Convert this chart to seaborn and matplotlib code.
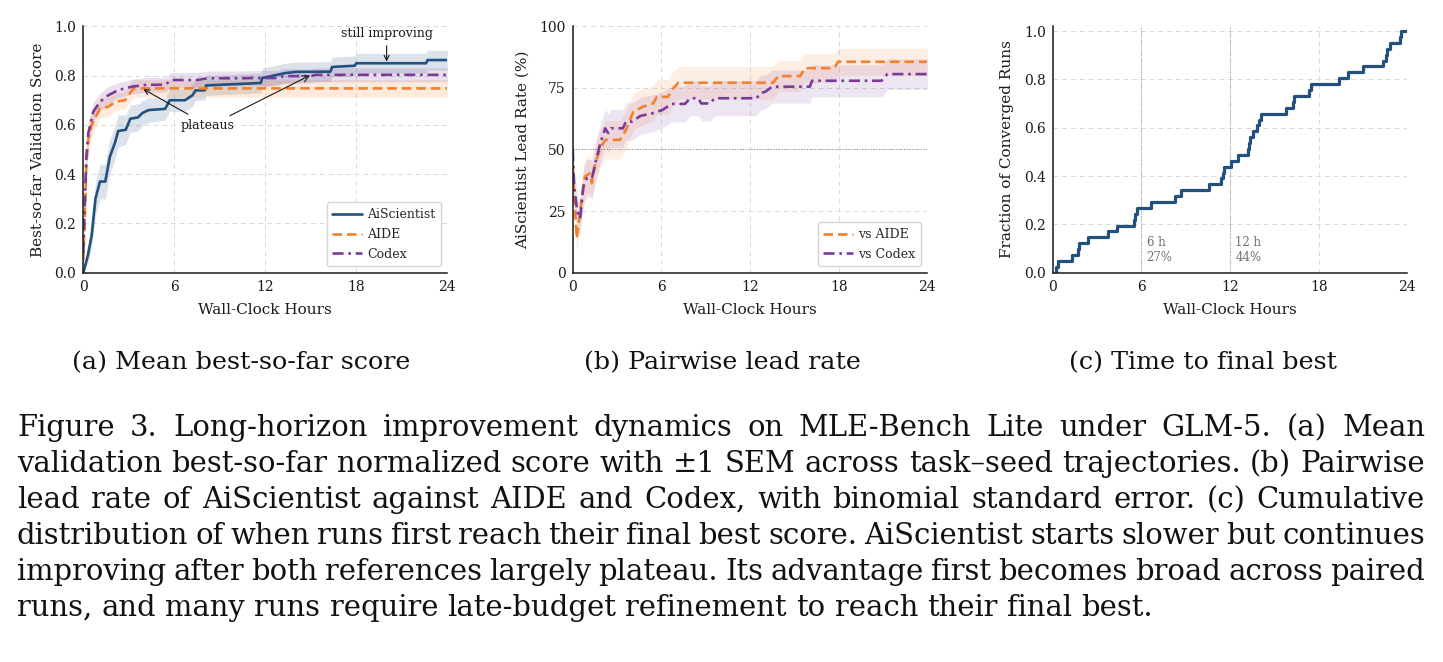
import matplotlib
matplotlib.use("Agg")
import matplotlib.pyplot as plt
import seaborn as sns
import numpy as np
import pandas as pd

# ---------------- data: (a) mean best-so-far score ----------------
hours_ai = [0.0, 0.3, 0.55, 0.8, 1.1, 1.45, 1.75, 2.1, 2.3, 2.8, 3.1, 3.6, 3.9, 4.3, 5.4, 5.7,
            6.7, 7.2, 7.4, 8.0, 8.1, 11.7, 11.8, 13.3, 14.0, 16.3, 16.4, 17.9, 18.0, 22.6, 22.7, 24.0]
score_ai = [0.0, 0.07, 0.15, 0.30, 0.37, 0.37, 0.47, 0.53, 0.575, 0.58, 0.625, 0.63, 0.648, 0.66, 0.665, 0.70,
            0.70, 0.72, 0.74, 0.74, 0.76, 0.77, 0.79, 0.81, 0.815, 0.816, 0.835, 0.84, 0.85, 0.85, 0.863, 0.863]
sem_ai = [0.0, 0.03, 0.05, 0.07, 0.07, 0.07, 0.07, 0.065, 0.065, 0.06, 0.055, 0.055, 0.05, 0.05, 0.045, 0.045,
          0.045, 0.045, 0.04, 0.04, 0.04, 0.04, 0.04, 0.04, 0.04, 0.04, 0.04, 0.04, 0.04, 0.04, 0.04, 0.04]

hours_aide = [0.0, 0.1, 0.2, 0.33, 0.55, 0.8, 1.1, 1.65, 2.1, 2.75, 2.97, 3.3, 24.0]
score_aide = [0.05, 0.22, 0.44, 0.54, 0.60, 0.63, 0.667, 0.673, 0.694, 0.70, 0.72, 0.748, 0.748]
sem_aide = [0.02, 0.04, 0.05, 0.05, 0.05, 0.045, 0.04, 0.04, 0.035, 0.035, 0.035, 0.035, 0.035]

hours_codex = [0.0, 0.1, 0.2, 0.33, 0.66, 1.1, 1.65, 2.3, 3.2, 4.1, 5.4, 5.8, 7.5, 8.2, 10.5, 11.0,
               12.8, 13.2, 15.0, 15.3, 24.0]
score_codex = [0.08, 0.28, 0.47, 0.566, 0.653, 0.694, 0.72, 0.741, 0.755, 0.762, 0.763, 0.782, 0.782, 0.789,
               0.789, 0.79, 0.79, 0.798, 0.798, 0.803, 0.803]
sem_codex = [0.03, 0.05, 0.05, 0.045, 0.04, 0.035, 0.035, 0.03, 0.03, 0.03, 0.03, 0.03, 0.03, 0.03,
             0.03, 0.03, 0.03, 0.03, 0.028, 0.028, 0.028]

methods_a = ["AiScientist", "AIDE", "Codex"]

# ---------------- data: (b) pairwise lead rate (%) ----------------
hours_vs_aide = [0.0, 0.27, 0.6, 0.83, 1.17, 1.3, 1.53, 1.87, 2.2, 3.2, 3.6, 4.1, 4.77, 5.45, 5.67, 6.46,
                 6.7, 7.15, 13.57, 13.9, 15.4, 15.7, 17.7, 17.96, 24.0]
lead_vs_aide = [43, 14, 29.5, 39, 40.3, 36.3, 44.4, 50.5, 53.9, 53.9, 57.9, 65.3, 67.4, 68.7, 71.2, 71.4,
                74.1, 77.1, 77.1, 79.8, 79.8, 83.0, 83.0, 85.6, 85.6]
se_vs_aide = [7.7, 5.4, 7.1, 7.6, 7.7, 7.5, 7.8, 7.8, 7.8, 7.8, 7.7, 7.4, 7.3, 7.2, 7.1, 7.1,
              6.8, 6.6, 6.6, 6.3, 6.3, 5.9, 5.9, 5.5, 5.5]

hours_vs_codex = [0.0, 0.1, 0.27, 0.4, 0.5, 0.72, 0.95, 1.3, 1.53, 1.87, 2.2, 2.4, 2.6, 3.4, 3.6, 4.0,
                  4.57, 5.4, 6.05, 6.7, 7.6, 7.95, 8.5, 8.7, 9.3, 9.6, 12.45, 12.7, 13.05, 13.5, 16.05,
                  16.2, 20.9, 21.3, 24.0]
lead_vs_codex = [49.8, 34.9, 26.8, 22.7, 22.0, 34.9, 38.3, 38.3, 44.4, 52.5, 58.6, 56.7, 58.6, 58.6, 61.3, 61.3,
                 63.6, 64.7, 66.0, 68.5, 68.5, 70.8, 70.8, 68.7, 68.7, 70.8, 70.8, 72.8, 73.5, 75.5, 75.5,
                 77.9, 77.9, 80.6, 80.6]
se_vs_codex = [7.8, 7.4, 6.9, 6.5, 6.5, 7.4, 7.6, 7.6, 7.8, 7.8, 7.7, 7.7, 7.7, 7.7, 7.6, 7.6,
               7.5, 7.5, 7.4, 7.3, 7.3, 7.1, 7.1, 7.2, 7.2, 7.1, 7.1, 7.0, 6.9, 6.7, 6.7,
               6.5, 6.5, 6.2, 6.2]

comparisons_b = ["vs AIDE", "vs Codex"]

# ---------------- data: (c) time to final best (hours, one per run) ----------------
conv_hours = [0.23, 0.38, 1.29, 1.74, 1.80, 2.41, 3.72, 4.33, 5.50, 5.60,
              5.68, 6.65, 8.28, 8.66, 10.6, 11.39, 11.55, 11.62, 12.05, 12.52,
              13.24, 13.30, 13.35, 13.57, 13.80, 13.98, 14.07, 15.8, 16.25, 16.3,
              17.35, 17.5, 19.35, 19.96, 21.0, 22.37, 22.55, 22.62, 22.8, 23.5, 23.6]
marker_hours = [6, 12]

x_ticks = [0, 6, 12, 18, 24]

subcaptions = ["(a) Mean best-so-far score", "(b) Pairwise lead rate", "(c) Time to final best"]
caption_lines = [
    "Figure 3.  Long-horizon improvement dynamics on MLE-Bench Lite under GLM-5.  (a) Mean",
    "validation best-so-far normalized score with \u00b11 SEM across task\u2013seed trajectories.  (b) Pairwise",
    "lead rate of AiScientist against AIDE and Codex, with binomial standard error.  (c) Cumulative",
    "distribution of when runs first reach their final best score.  AiScientist starts slower but continues",
    "improving after both references largely plateau.  Its advantage first becomes broad across paired",
    "runs, and many runs require late-budget refinement to reach their final best.",
]

# ---------------- style ----------------
sns.set_theme(style="white")
plt.rcParams['font.family'] = ['DejaVu Serif']
plt.rcParams['mathtext.fontset'] = 'dejavuserif'

BLUE = "#22507f"
ORANGE = "#f2802c"
PURPLE = "#7b3a98"
GRID = "#dadada"
INK = "#1a1a1a"

W, H = 1443, 662
fig = plt.figure(figsize=(W / 100, H / 100), dpi=100)
fig.patch.set_facecolor("white")


def px_axes(left, right, top=26.3, bottom=272.7):
    return fig.add_axes([left / W, 1 - bottom / H, (right - left) / W, (bottom - top) / H])


axA = px_axes(83.3, 447.3)
axB = px_axes(572.7, 927.3)
axC = px_axes(1052.7, 1407.3)


def style(ax):
    for s in ["top", "right"]:
        ax.spines[s].set_visible(False)
    for s in ["left", "bottom"]:
        ax.spines[s].set_color(INK)
        ax.spines[s].set_linewidth(1.1)
    ax.tick_params(direction="in", length=4, width=0.9, colors=INK, labelsize=10, pad=5)
    ax.grid(True, linestyle=(0, (5, 4)), linewidth=0.7, color=GRID)
    ax.set_axisbelow(True)
    ax.set_xlim(0, 24)
    ax.set_xticks(x_ticks)
    ax.set_xlabel("Wall-Clock Hours", fontsize=11, color=INK, labelpad=7)


DASH_AIDE = (3.6, 1.9)
DASH_CODEX = (4.2, 1.8, 1.0, 1.8)
LEG_KW = dict(loc="lower right", fontsize=9, frameon=True, fancybox=True, edgecolor="#d5d5d5",
              framealpha=1.0, handlelength=2.4, handletextpad=0.4, borderpad=0.45, labelspacing=0.55)

# ---------------- panel (a) ----------------
dfA = pd.concat([
    pd.DataFrame({"hours": hours_ai, "score": score_ai, "err": sem_ai, "method": methods_a[0]}),
    pd.DataFrame({"hours": hours_aide, "score": score_aide, "err": sem_aide, "method": methods_a[1]}),
    pd.DataFrame({"hours": hours_codex, "score": score_codex, "err": sem_codex, "method": methods_a[2]}),
], ignore_index=True)
palA = dict(zip(methods_a, [BLUE, ORANGE, PURPLE]))
for m in methods_a:
    d = dfA[dfA["method"] == m]
    axA.fill_between(d["hours"], d["score"] - d["err"], d["score"] + d["err"], color=palA[m],
                     alpha=0.16, lw=0)
sns.lineplot(data=dfA, x="hours", y="score", hue="method", style="method", palette=palA,
             dashes={methods_a[0]: "", methods_a[1]: DASH_AIDE, methods_a[2]: DASH_CODEX},
             estimator=None, lw=1.9, ax=axA)
style(axA)
axA.set_ylim(0, 1.0)
axA.set_yticks([0, 0.2, 0.4, 0.6, 0.8, 1.0])
axA.set_yticklabels([f"{v:.1f}" for v in [0, 0.2, 0.4, 0.6, 0.8, 1.0]])
axA.set_ylabel("Best-so-far Validation Score", fontsize=11, color=INK, labelpad=7)
h, l = axA.get_legend_handles_labels()
axA.legend(h, l, **LEG_KW)
arrow_kw = dict(arrowstyle="->", color=INK, lw=0.8, shrinkA=2, shrinkB=0)
axA.annotate("plateaus", xy=(3.96, 0.745), xytext=(8.2, 0.598), ha="center", va="center",
             fontsize=9, color=INK, arrowprops=arrow_kw)
axA.annotate("", xy=(14.95, 0.801), xytext=(9.5, 0.632), arrowprops=arrow_kw)
axA.annotate("still improving", xy=(20.0, 0.857), xytext=(20.0, 0.972), ha="center", va="center",
             fontsize=9, color=INK, arrowprops=arrow_kw)

# ---------------- panel (b) ----------------
dfB = pd.concat([
    pd.DataFrame({"hours": hours_vs_aide, "lead": lead_vs_aide, "err": se_vs_aide, "cmp": comparisons_b[0]}),
    pd.DataFrame({"hours": hours_vs_codex, "lead": lead_vs_codex, "err": se_vs_codex, "cmp": comparisons_b[1]}),
], ignore_index=True)
palB = dict(zip(comparisons_b, [ORANGE, PURPLE]))
axB.axhline(50, color="#9a9a9a", lw=0.8, ls=(0, (1, 1.5)), zorder=1)
for c in comparisons_b:
    d = dfB[dfB["cmp"] == c]
    axB.fill_between(d["hours"], d["lead"] - d["err"], d["lead"] + d["err"], color=palB[c],
                     alpha=0.13, lw=0)
sns.lineplot(data=dfB, x="hours", y="lead", hue="cmp", style="cmp", palette=palB,
             dashes={comparisons_b[0]: DASH_AIDE, comparisons_b[1]: DASH_CODEX},
             estimator=None, lw=1.9, ax=axB)
style(axB)
axB.set_ylim(0, 100)
axB.set_yticks([0, 25, 50, 75, 100])
axB.set_ylabel("AiScientist Lead Rate (%)", fontsize=11, color=INK, labelpad=7)
h, l = axB.get_legend_handles_labels()
axB.legend(h, l, **LEG_KW)

# ---------------- panel (c) ----------------
style(axC)
for mh in marker_hours:
    axC.axvline(mh, color="#a8a8a8", lw=0.8, ls=(0, (1, 1.2)), zorder=1)
sns.ecdfplot(x=conv_hours, ax=axC, color=BLUE, lw=2.3)
axC.plot([max(conv_hours), x_ticks[-1]], [1, 1], color=BLUE, lw=2.3, solid_capstyle="butt")
axC.set_xlim(0, 24)
axC.set_ylim(0, 1.02)
axC.set_yticks([0, 0.2, 0.4, 0.6, 0.8, 1.0])
axC.set_yticklabels([f"{v:.1f}" for v in [0, 0.2, 0.4, 0.6, 0.8, 1.0]])
axC.set_ylabel("Fraction of Converged Runs", fontsize=11, color=INK, labelpad=7)
axC.set_xlabel("Wall-Clock Hours", fontsize=11, color=INK, labelpad=7)
conv_arr = np.array(conv_hours)
for mh in marker_hours:
    frac = np.mean(conv_arr <= mh) * 100
    axC.text(mh + 0.35, 0.035, f"{mh} h\n{frac:.0f}%", ha="left", va="bottom", fontsize=8.5,
             color="#6e6e6e", linespacing=1.25)

# ---------------- captions ----------------
renderer = fig.canvas.get_renderer()
CAP_FONT = "DejaVu Serif"


def text_width(s, size):
    t = fig.text(0, 0, s, fontsize=size, family=CAP_FONT)
    w = t.get_window_extent(renderer).width
    t.remove()
    return w


# calibrate sizes so text spans like the reference
cap_size = 20 * (1150 - 17) / text_width(caption_lines[-1], 20)
sub_size = 20 * 337 / text_width(subcaptions[0], 20)


def place_line(text, x0, x1, base_y, justify=True, size=cap_size):
    words = text.split()
    arts = [fig.text(0, 1 - base_y / H, w, fontsize=size, family=CAP_FONT, color="#111111",
                     va="baseline", ha="left") for w in words]
    widths = [a.get_window_extent(renderer).width for a in arts]
    space = text_width("a a", size) - text_width("aa", size)
    if justify and len(words) > 1:
        gap = (x1 - x0 - sum(widths)) / (len(words) - 1)
    else:
        gap = space
    x = x0
    for a, w in zip(arts, widths):
        a.set_x(x / W)
        x += w + gap


for i, line in enumerate(caption_lines):
    place_line(line, 17, 1425, 436 + 36 * i, justify=(i < len(caption_lines) - 1))

sub_centers = [241, 722, 1203]
for txt, cx in zip(subcaptions, sub_centers):
    fig.text(cx / W, 1 - 369 / H, txt, fontsize=sub_size, family=CAP_FONT, color="#111111",
             ha="center", va="baseline")

fig.savefig("out.png", dpi=100)
